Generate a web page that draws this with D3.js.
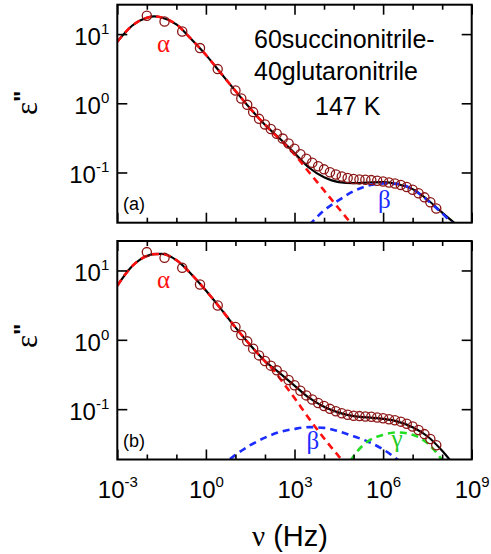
<!DOCTYPE html>
<html><head><meta charset="utf-8">
<script src="https://cdn.jsdelivr.net/npm/d3@7"></script>
<style>
body{margin:0;background:#fff}
svg{display:block}
text{font-family:"Liberation Sans",Arial,sans-serif;fill:#000}
.greek{font-family:"Liberation Serif","DejaVu Serif",serif}
</style></head>
<body><svg id="chart" width="491" height="554"></svg>
<script>
// ---- measured data (same spectrum in both panels) ----
const dataFreq = [0.01, 0.0398, 0.158, 0.631, 2.51, 10, 15.8, 25.1, 39.8, 63.1, 100, 158, 251, 398, 631,
  1000, 1585, 2512, 3981, 6310, 1e4, 15849, 25119, 39811, 63096, 1e5, 158489, 251189, 398107, 630957,
  1e6, 1.585e6, 2.512e6, 3.981e6, 6.31e6, 1e7, 1.585e7, 2.512e7, 3.981e7, 6.31e7];
const dataEps = [18.4, 15.2, 10.9, 6.28, 3.12, 1.53, 1.17, 0.95, 0.746, 0.596, 0.495, 0.424, 0.363, 0.309, 0.263,
  0.221, 0.184, 0.158, 0.138, 0.123, 0.111, 0.101, 0.0933, 0.0875, 0.0832, 0.0804, 0.0794, 0.0785, 0.0776, 0.0759,
  0.0741, 0.0716, 0.0692, 0.0661, 0.0617, 0.0562, 0.0501, 0.0437, 0.0372, 0.0302];

// ---- fit curves ----
const fitFreq = [1e-3, 3.16e-3, 1e-2, 1.78e-2, 3.16e-2, 0.1, 0.316, 1, 3.16, 10, 31.6, 100, 316, 1e3, 3.16e3,
  1e4, 3.16e4, 1e5, 3.16e5, 1e6, 3.16e6, 1e7, 3.16e7, 1e8, 3.16e8];
const totalA = [7.76, 13.2, 17.2, 18.0, 17.4, 13.8, 8.51, 5.01, 2.75, 1.51, 0.841, 0.490, 0.309, 0.191, 0.117,
  0.0851, 0.0724, 0.0700, 0.0716, 0.0724, 0.0676, 0.0575, 0.0407, 0.0263, 0.0174];
const totalB = [6.03, 11.5, 16.2, 17.2, 17.3, 14.1, 8.91, 5.13, 2.82, 1.51, 0.841, 0.495, 0.331, 0.219, 0.145,
  0.108, 0.0891, 0.0794, 0.0759, 0.0724, 0.0661, 0.0550, 0.0407, 0.0251, 0.0138];

const alphaAFreq = [1e-3, 3.16e-3, 1e-2, 1.78e-2, 3.16e-2, 0.1, 0.316, 1, 3.16, 10, 31.6, 100, 316, 1e3, 3.16e3, 1e4, 3.16e4, 1e5];
const alphaA = [7.76, 13.2, 17.2, 18.0, 17.4, 13.8, 8.51, 5.01, 2.75, 1.51, 0.841, 0.490, 0.302, 0.182, 0.100, 0.0550, 0.0302, 0.0166];
const betaAFreq = [3.16e3, 1e4, 3.16e4, 1e5, 3.16e5, 1e6, 3.16e6, 1e7, 3.16e7, 1e8, 3.16e8];
const betaA = [0.0174, 0.0282, 0.0398, 0.0537, 0.0646, 0.0692, 0.0684, 0.0569, 0.0398, 0.0257, 0.0158];

const alphaBFreq = [1e-3, 3.16e-3, 1e-2, 1.78e-2, 3.16e-2, 0.1, 0.316, 1, 3.16, 10, 31.6, 100, 200, 398, 1e3, 3.16e3, 1e4, 3.16e4, 6.31e4];
const alphaB = [6.03, 11.5, 16.2, 17.2, 17.3, 14.1, 8.91, 5.13, 2.82, 1.51, 0.841, 0.490, 0.363, 0.245, 0.145, 0.0724, 0.038, 0.0209, 0.0151];
const betaBFreq = [3.16, 10, 31.6, 100, 316, 1e3, 3.16e3, 1e4, 3.16e4, 1e5, 3.16e5, 1e6, 3.16e6, 1e7];
const betaB = [0.0148, 0.0219, 0.0302, 0.0389, 0.0468, 0.0519, 0.0550, 0.0537, 0.0479, 0.0407, 0.0339, 0.0263, 0.0186, 0.0126];
const gammaBFreq = [5.01e4, 1e5, 3.16e5, 1e6, 3.16e6, 1e7, 3.16e7, 1e8, 1.58e8];
const gammaB = [0.0126, 0.0209, 0.0347, 0.0427, 0.0462, 0.0427, 0.0324, 0.0182, 0.0132];

// ---- ticks ----
const xTickExps = [-3,-2,-1,0,1,2,3,4,5,6,7,8,9];
const xLabelExps = [-3,0,3,6,9];
const yTickExps = [-1,0,1];

const svg = d3.select("#chart");
const X0 = 117.3, X1 = 471.7;
const x = d3.scaleLog().domain([1e-3, 1e9]).range([X0, X1]);
const yDomain = [0.0188, 26.6];

const panels = [
  {id:"a", top:4.7, bottom:222.7, total:totalA,
   comps:[{f:alphaAFreq, v:alphaA, c:"#ff1010"}, {f:betaAFreq, v:betaA, c:"#1a2cff"}],
   labels:[{t:"α", x:157, y:52, c:"#ff1010"}, {t:"β", x:378, y:208, c:"#1a2cff"}],
   tag:"(a)", tagY:210, yLab:105, showX:false},
  {id:"b", top:241, bottom:459.5, total:totalB,
   comps:[{f:alphaBFreq, v:alphaB, c:"#ff1010"}, {f:betaBFreq, v:betaB, c:"#1a2cff"}, {f:gammaBFreq, v:gammaB, c:"#22dd22"}],
   labels:[{t:"α", x:157, y:288, c:"#ff1010"}, {t:"β", x:306.5, y:449, c:"#1a2cff"}, {t:"γ", x:391.5, y:447, c:"#22cc22"}],
   tag:"(b)", tagY:447, yLab:338, showX:true}
];

function sup(sel, exps, supDy){
  sel.each(function(d){
    const t = d3.select(this);
    t.text(null);
    t.append("tspan").text("10");
    t.append("tspan").attr("dy", supDy).attr("font-size", 15).text(String(Math.round(Math.log10(d))));
  });
}

panels.forEach(p => {
  const y = d3.scaleLog().domain(yDomain).range([p.bottom, p.top]);
  const g = svg.append("g");
  const clipId = "clip" + p.id;
  svg.append("clipPath").attr("id", clipId).append("rect")
    .attr("x", X0).attr("y", p.top).attr("width", X1 - X0).attr("height", p.bottom - p.top);
  const plot = g.append("g").attr("clip-path", `url(#${clipId})`);
  const line = d3.line().x(d => x(d[0])).y(d => y(d[1])).curve(d3.curveMonotoneX);

  plot.append("path").datum(fitFreq.map((f,i)=>[f, p.total[i]]))
    .attr("d", line).attr("fill","none").attr("stroke","#000").attr("stroke-width",2.2);
  p.comps.forEach(c => {
    plot.append("path").datum(c.f.map((f,i)=>[f, c.v[i]]))
      .attr("d", line).attr("fill","none").attr("stroke", c.c).attr("stroke-width",2.6)
      .attr("stroke-dasharray","7,5");
  });
  plot.selectAll("circle").data(dataFreq.map((f,i)=>[f, dataEps[i]])).enter().append("circle")
    .attr("cx", d=>x(d[0])).attr("cy", d=>y(d[1])).attr("r", 4.6)
    .attr("fill","none").attr("stroke","#8b1414").attr("stroke-width",1.3);

  // axes (inward ticks)
  const xt = xTickExps.map(e => Math.pow(10, e));
  const xMajor = xLabelExps.map(e => Math.pow(10, e));
  const xMinor = xt.filter(v => !xMajor.includes(v));
  const yt = yTickExps.map(e => Math.pow(10, e));

  [["bottom", p.bottom, d3.axisBottom], ["top", p.top, d3.axisTop]].forEach(([name, yy, fn]) => {
    const gm = g.append("g").attr("transform", `translate(0,${yy})`)
      .call(fn(x).tickValues(xMinor).tickSize(-5).tickFormat(""));
    gm.select(".domain").remove();
    const gM = g.append("g").attr("transform", `translate(0,${yy})`)
      .call(fn(x).tickValues(xMajor).tickSize(-10).tickFormat(d => d));
    gM.select(".domain").remove();
    if (name === "bottom" && p.showX) {
      gM.selectAll(".tick text").attr("y", 38).attr("dy", null).attr("font-size", 24)
        .attr("font-family", "Liberation Sans, Arial, sans-serif").attr("fill","#000").call(sup, null, -11);
    } else {
      gM.selectAll(".tick text").remove();
    }
    g.selectAll(".tick line").attr("stroke","#000").attr("stroke-width",1.6);
  });

  const gl = g.append("g").attr("transform", `translate(${X0},0)`)
    .call(d3.axisLeft(y).tickValues(yt).tickSize(-10).tickPadding(8).tickFormat(d => d));
  gl.select(".domain").remove();
  gl.selectAll(".tick text").attr("dy", null).attr("y", 10.5).attr("font-size", 24)
    .attr("font-family", "Liberation Sans, Arial, sans-serif").attr("fill","#000").call(sup, null, -11);
  const gr = g.append("g").attr("transform", `translate(${X1},0)`)
    .call(d3.axisRight(y).tickValues(yt).tickSize(-10).tickFormat(""));
  gr.select(".domain").remove();
  g.selectAll(".tick line").attr("stroke","#000").attr("stroke-width",1.6);

  // frame
  g.append("rect").attr("x", X0).attr("y", p.top).attr("width", X1 - X0).attr("height", p.bottom - p.top)
    .attr("fill","none").attr("stroke","#000").attr("stroke-width",2);

  // component labels
  p.labels.forEach(l => {
    g.append("text").attr("class","greek").attr("x", l.x).attr("y", l.y).attr("font-size", 25).style("fill", l.c).text(l.t);
  });
  g.append("text").attr("x", 123).attr("y", p.tagY).attr("font-size", 18).text(p.tag);

  // y label
  const yl = g.append("text").attr("transform", `translate(37,${p.yLab + 10}) rotate(-90)`).attr("font-size", 31);
  yl.append("tspan").attr("class","greek").text("ε");
  yl.append("tspan").attr("dy", -6).attr("font-size", 24).attr("font-weight","bold").text("\"");
});

// panel (a) annotation
const ann = svg.append("g");
ann.append("text").attr("x", 254).attr("y", 47.5).attr("font-size", 25).text("60succinonitrile-");
ann.append("text").attr("x", 254).attr("y", 80).attr("font-size", 25).text("40glutaronitrile");
ann.append("text").attr("x", 315).attr("y", 115).attr("font-size", 25).text("147 K");

// x label
const xl = svg.append("text").attr("x", 290).attr("y", 546).attr("text-anchor","middle").attr("font-size", 29);
xl.append("tspan").attr("class","greek").text("ν");
xl.append("tspan").text(" (Hz)");
</script>
</body></html>
